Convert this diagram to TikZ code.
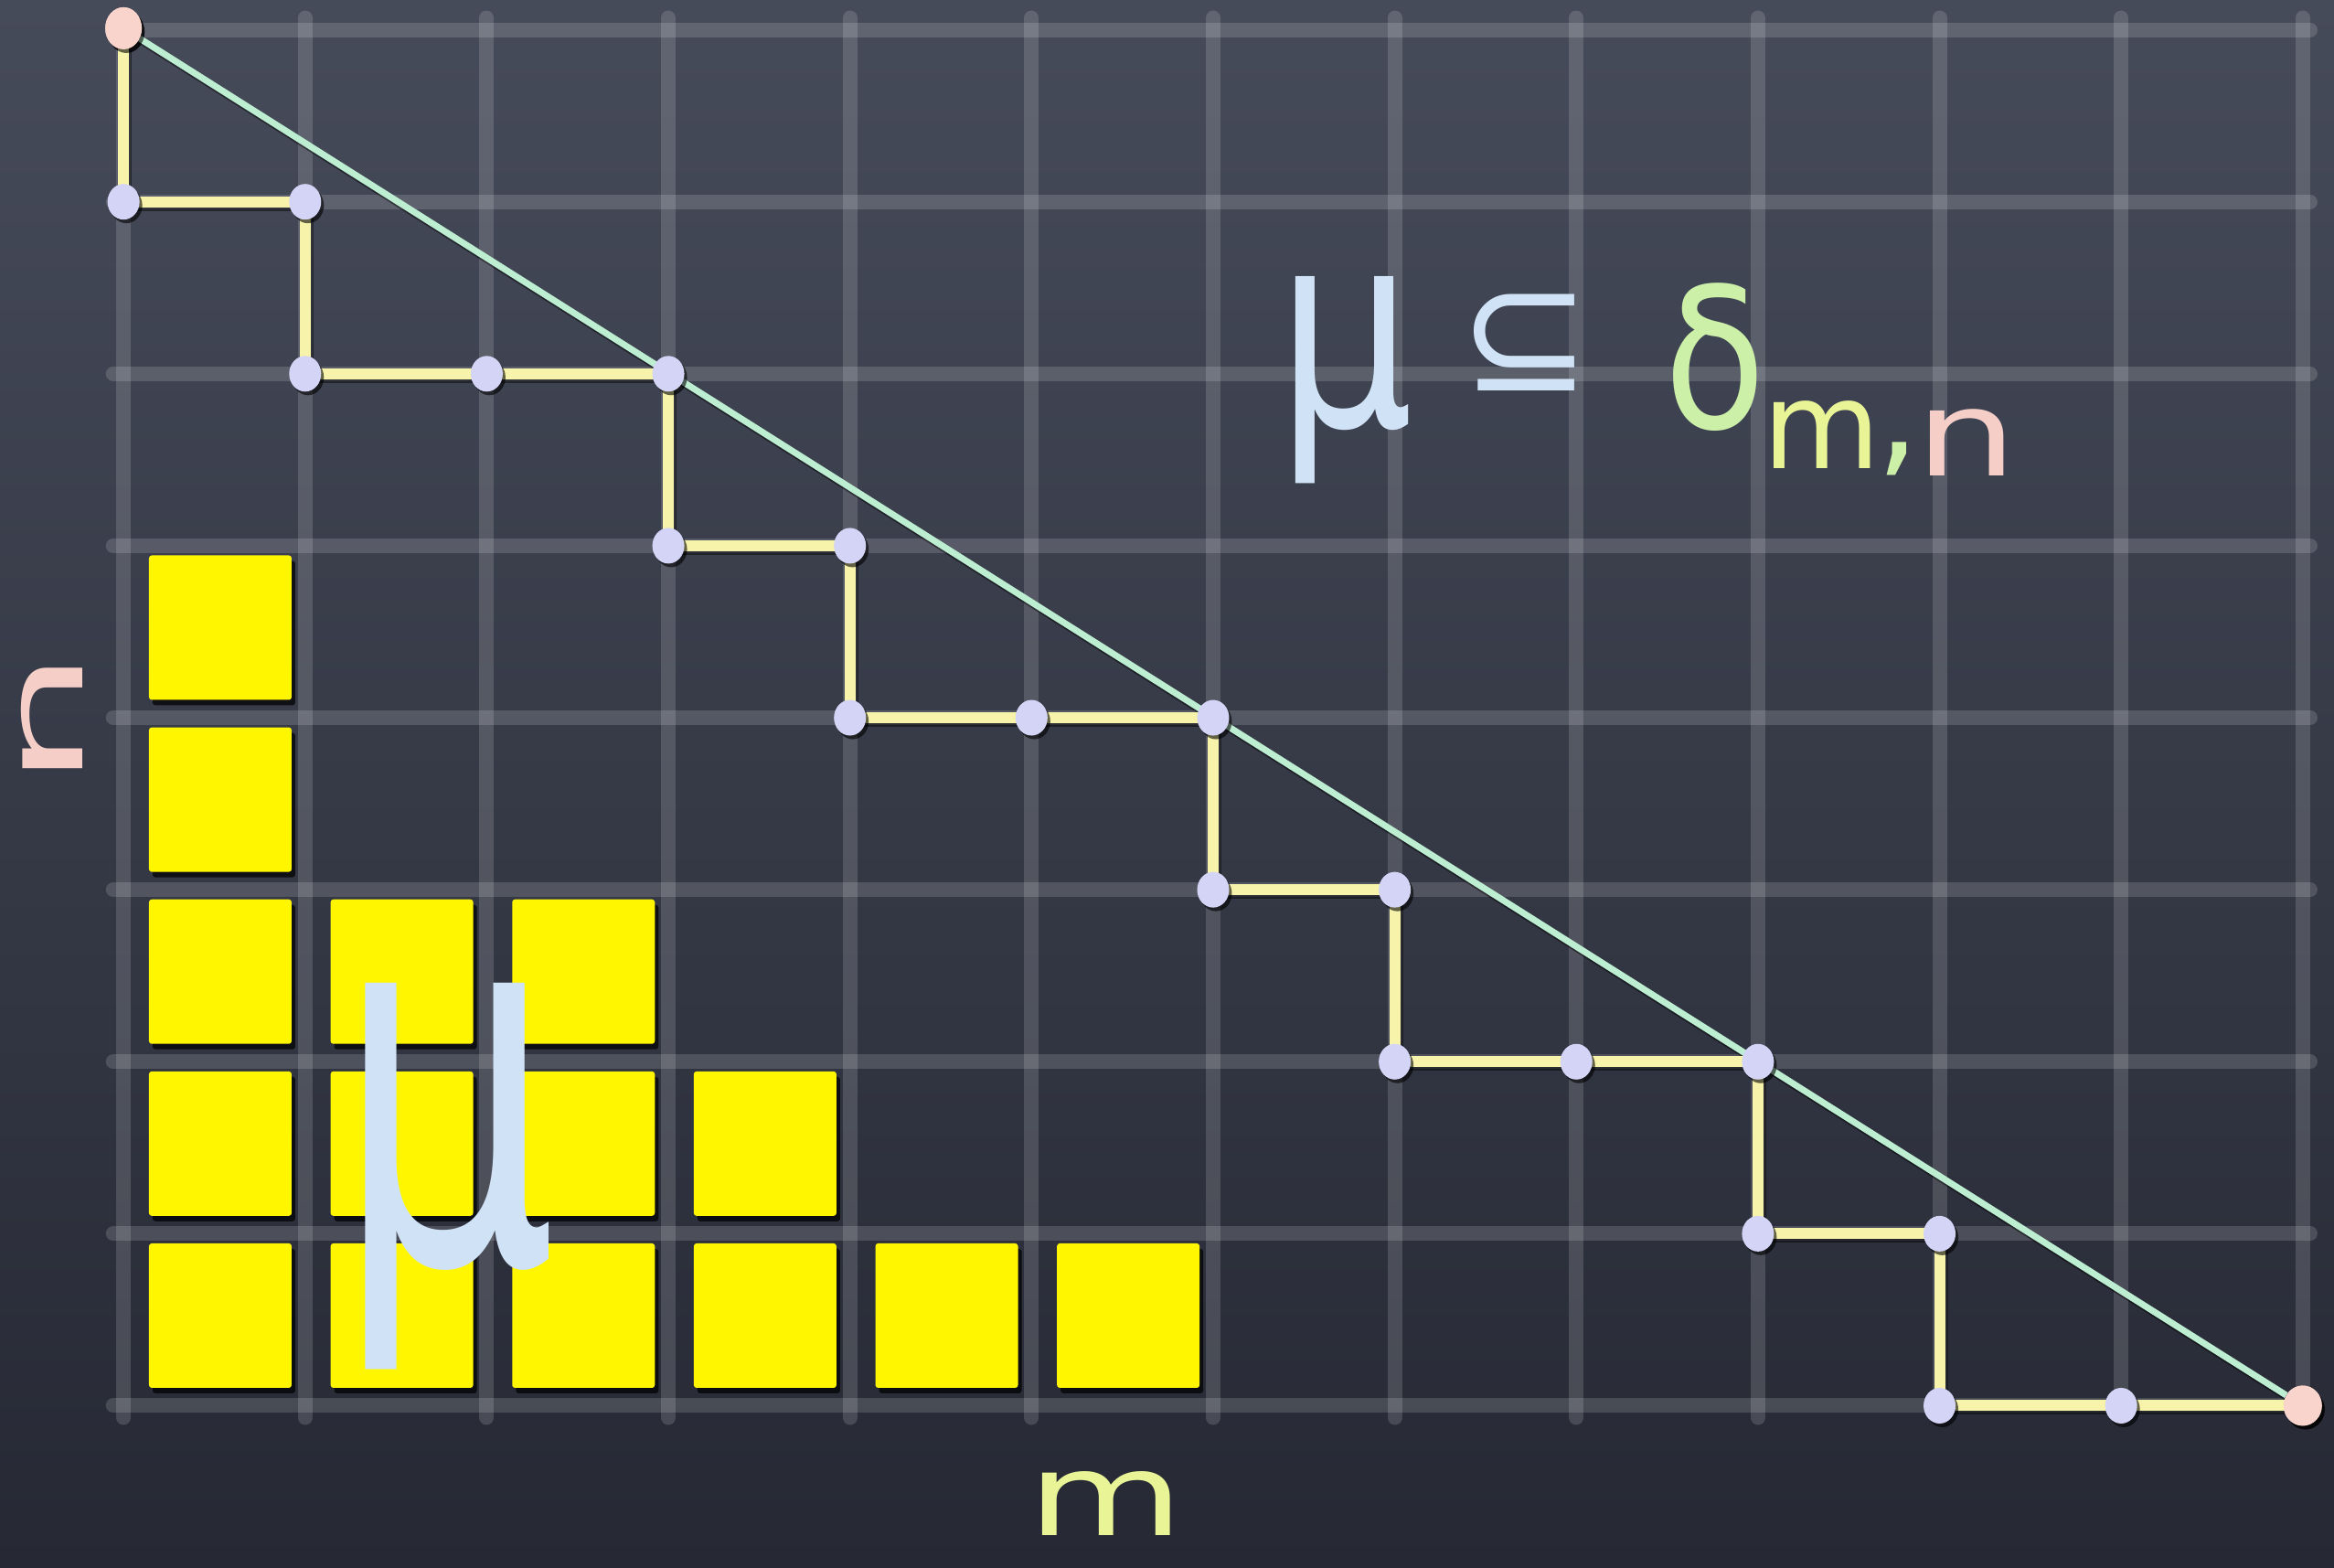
\documentclass[tikz,border=0pt]{standalone}
\usepackage{fontspec}
\newfontfamily\chalk{DejaVu Sans}
\usetikzlibrary{shapes.geometric,shadows}
\newcommand\myfs[1]{\fontsize{#1}{#1}\selectfont}
\definecolor{boardtop}{RGB}{70,75,90}
\definecolor{boardbot}{RGB}{38,41,52}
\definecolor{sqyellow}{RGB}{255,246,0}
\definecolor{dotc}{RGB}{212,212,246}
\definecolor{pinkc}{RGB}{248,212,204}
\definecolor{pathc}{RGB}{247,243,170}
\definecolor{diagc}{RGB}{190,238,210}
\definecolor{muc}{RGB}{208,226,246}
\definecolor{deltac}{RGB}{204,240,168}
\definecolor{mc}{RGB}{232,244,150}
\definecolor{nc}{RGB}{246,206,200}
\begin{document}
\begin{tikzpicture}[x=1.6282pt,y=-1.6287pt,
  gridline/.style={draw=white, opacity=0.15, line width=16pt, line cap=round},
  sq/.style={fill=sqyellow, minimum width=156pt, minimum height=158pt, inner sep=0pt, rounded corners=3pt,
    drop shadow={shadow xshift=4pt, shadow yshift=-6pt, opacity=0.7, fill=black}},
  dotnode/.style={ellipse, fill=dotc, minimum width=35pt, minimum height=39pt, inner sep=0pt,
    drop shadow={shadow xshift=3pt, shadow yshift=-4pt, opacity=0.6, fill=black}},
  enddot/.style={dotnode, fill=pinkc, minimum width=42pt, minimum height=44pt},
  pathline/.style={draw=pathc, line width=12pt, line cap=round, line join=round},
  diag/.style={draw=diagc, line width=7pt},
  shadowline/.style={draw=black, opacity=0.45, line width=12pt, line cap=round, line join=round},
  chalktext/.style={inner sep=0pt}]
\useasboundingbox (0,0) rectangle (1568,1053);
\shade[top color=boardtop, bottom color=boardbot] (0,0) rectangle (1568,1053);

% grid
\foreach \i in {0,...,12} \draw[gridline] ({83+122*\i},12) -- ({83+122*\i},952);
\foreach \j in {0,...,8} \draw[gridline] (76,{20+115.5*\j}) -- (1552,{20+115.5*\j});

% yellow squares (partition)
\foreach \i/\j in {0/3,0/4,0/5,1/5,2/5,0/6,1/6,2/6,3/6,0/7,1/7,2/7,3/7,4/7,5/7}
  \node[sq] (s\i\j) at ({148+122*\i},{20+115.5*\j+55}) {};

% lattice path vertices
\node[enddot, minimum width=40pt, minimum height=46pt] (v0) at (83,19) {};
\foreach \i/\j [count=\k from 1] in {0/1,1/1,1/2,2/2,3/2,3/3,4/3,4/4,5/4,6/4,6/5,7/5,7/6,8/6,9/6,9/7,10/7,10/8,11/8}
  \coordinate (c\k) at ({83+122*\i},{20+115.5*\j});
\node[enddot] (v20) at (1547,944) {};

% shadows of lines
\begin{scope}[transform canvas={xshift=3pt, yshift=-4pt}]
  \draw[shadowline, line width=7pt] (v0.center) -- (v20.center);
  \draw[shadowline] (v0.center) \foreach \k in {1,...,19} { -- (c\k) } -- (v20.center);
\end{scope}

% diagonal
\draw[diag] (v0) -- (v20);
% path
\draw[pathline] (v0.center) \foreach \k in {1,...,19} { -- (c\k) } -- (v20.center);

% dots
\foreach \k in {1,...,19} \node[dotnode] (v\k) at (c\k) {};
\node[enddot, minimum width=40pt, minimum height=46pt] at (v0) {};
\node[enddot] at (v20) {};

% big mu on the diagram
\node[chalktext, text=muc, font=\chalk\myfs{560pt}] (bigmu) at (300,790) {\scalebox{0.68}[1]{μ}};

% label mu subseteq delta_{m,n}
\node[chalktext, text=muc, font=\chalk\myfs{300pt}] (lmu) at (904,255) {\scalebox{0.78}[1]{μ}};
\node[chalktext, text=muc, font=\chalk\myfs{172pt}] (lsub) at (1025,230) {⊆};
\node[chalktext, text=deltac, font=\chalk\myfs{214pt}] (ldelta) at (1152,240) {\scalebox{0.85}[1]{δ}};
\node[chalktext, text=mc, font=\chalk\myfs{132pt}] (lm) at (1224,292) {m};
\node[chalktext, text=deltac, font=\chalk\myfs{150pt}] (lcomma) at (1275,308) {,};
\node[chalktext, text=nc, font=\chalk\myfs{130pt}] (ln) at (1321,297) {\scalebox{1.35}[1]{n}};

% axis labels
\node[chalktext, text=nc, font=\chalk\myfs{120pt}, rotate=90] (axn) at (35,483) {\scalebox{2}[1]{n}};
\node[chalktext, text=mc, font=\chalk\myfs{125pt}] (axm) at (743,1010) {\scalebox{1.4}[1]{m}};
\end{tikzpicture}
\end{document}
